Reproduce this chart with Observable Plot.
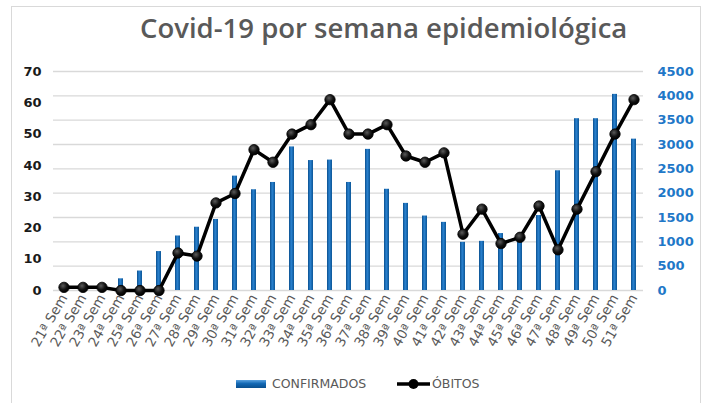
<!DOCTYPE html>
<html>
<head>
<meta charset="utf-8">
<script src="https://cdn.jsdelivr.net/npm/d3@7"></script>
<script src="https://cdn.jsdelivr.net/npm/@observablehq/plot@0.6"></script>
<style>
  html, body { margin: 0; padding: 0; background: #fff; }
  #wrap { position: relative; width: 704px; height: 403px; overflow: hidden; font-family: "Open Sans", sans-serif; }
  #frame { position: absolute; left: 11px; top: 6px; width: 690px; height: 400px; border: 1.5px solid #d9d9d9; box-sizing: border-box; }
  #title { position: absolute; left: 140px; top: 9px; font-size: 27.5px; font-weight: 600; color: #595959; white-space: nowrap; }
  #chart { position: absolute; left: 0; top: 0; }
  .leg { position: absolute; font-family: "DejaVu Sans", sans-serif; font-size: 12.5px; color: #595959; line-height: 16px; white-space: nowrap; }
</style>
</head>
<body>
<div id="wrap">
  <div id="frame"></div>
  <div id="chart"></div>
  <div id="title">Covid-19 por semana epidemiológica</div>
  <div class="leg" style="left:236px; top:380px; width:30px; height:8px; background: linear-gradient(to bottom, #5aa2e0, #1268b4 45%, #0a4f8e);"></div>
  <div class="leg" style="left:272px; top:376px;">CONFIRMADOS</div>
  <svg class="leg" style="left:396px; top:376px;" width="36" height="16">
    <line x1="1" y1="8" x2="34" y2="8" stroke="#000" stroke-width="3.5"/>
    <circle cx="17.5" cy="8" r="5" fill="#000"/>
  </svg>
  <div class="leg" style="left:432px; top:376px;">ÓBITOS</div>
</div>
<script>
const weeks = ["21ª Sem","22ª Sem","23ª Sem","24ª Sem","25ª Sem","26ª Sem","27ª Sem","28ª Sem","29ª Sem","30ª Sem",
  "31ª Sem","32ª Sem","33ª Sem","34ª Sem","35ª Sem","36ª Sem","37ª Sem","38ª Sem","39ª Sem","40ª Sem",
  "41ª Sem","42ª Sem","43ª Sem","44ª Sem","45ª Sem","46ª Sem","47ª Sem","48ª Sem","49ª Sem","50ª Sem","51ª Sem"];
const confirmados = [0,0,0,240,400,800,1120,1300,1460,2350,2070,2220,2950,2670,2680,2220,2900,2080,1790,1530,1400,990,1010,1170,1100,1540,2460,3530,3530,4030,3110];
const obitos = [1,1,1,0,0,0,12,11,28,31,45,41,50,53,61,50,50,53,43,41,44,18,26,15,17,27,13,26,38,50,61];
const rightTicks = [0,500,1000,1500,2000,2500,3000,3500,4000,4500];
const leftTicks = [0,10,20,30,40,50,60,70];

const leftMax = 70, rightMax = 4500;
const K = rightMax / leftMax;
const table = weeks.map((w, i) => ({week: w, confirmados: confirmados[i], obitos: obitos[i]}));

const chart = Plot.plot({
  width: 704,
  height: 403,
  marginTop: 71,
  marginBottom: 113,
  marginLeft: 53,
  marginRight: 61,
  style: {fontFamily: "DejaVu Sans", background: "transparent", overflow: "visible"},
  x: {domain: weeks, padding: 0, label: null},
  y: {domain: [0, rightMax], label: null},
  marks: [
    Plot.gridY(rightTicks, {stroke: "#d9d9d9", strokeOpacity: 1, strokeWidth: 1.3}),
    Plot.barY(table, {x: "week", y: "confirmados", fill: "url(#barGrad)", insetLeft: 7, insetRight: 7}),
    Plot.line(table, {x: "week", y: d => d.obitos * K, stroke: "#000", strokeWidth: 3.5}),
    Plot.dot(table, {x: "week", y: d => d.obitos * K, r: 5.2, fill: "url(#dotGrad)", stroke: "#000", strokeWidth: 0.8}),
    Plot.axisY(rightTicks, {anchor: "right", tickSize: 0, tickPadding: 14, tickFormat: d => String(d), fill: "#1f78c8", fontWeight: "bold", fontSize: 13, label: null}),
    Plot.axisY(leftTicks.map(v => v * K), {anchor: "left", tickSize: 0, tickPadding: 12, tickFormat: v => String(Math.round(v / K)), fill: "#1a1a1a", fontWeight: "bold", fontSize: 13, label: null}),
    Plot.axisX({tickSize: 0, tickRotate: -60, tickPadding: 5, fontSize: 13.5, fill: "#595959", label: null})
  ]
});

const svg = d3.select(chart);
const defs = svg.insert("defs", ":first-child");
const bg = defs.append("linearGradient").attr("id", "barGrad").attr("x1", "0").attr("x2", "1").attr("y1", "0").attr("y2", "0");
bg.append("stop").attr("offset", "0%").attr("stop-color", "#0a4f8e");
bg.append("stop").attr("offset", "45%").attr("stop-color", "#2a82d0");
bg.append("stop").attr("offset", "100%").attr("stop-color", "#0b5596");
const dg = defs.append("radialGradient").attr("id", "dotGrad").attr("cx", "0.4").attr("cy", "0.35").attr("r", "0.65");
dg.append("stop").attr("offset", "0%").attr("stop-color", "#5a5a5a");
dg.append("stop").attr("offset", "60%").attr("stop-color", "#111");
dg.append("stop").attr("offset", "100%").attr("stop-color", "#000");

document.getElementById("chart").appendChild(chart);
</script>
</body>
</html>
